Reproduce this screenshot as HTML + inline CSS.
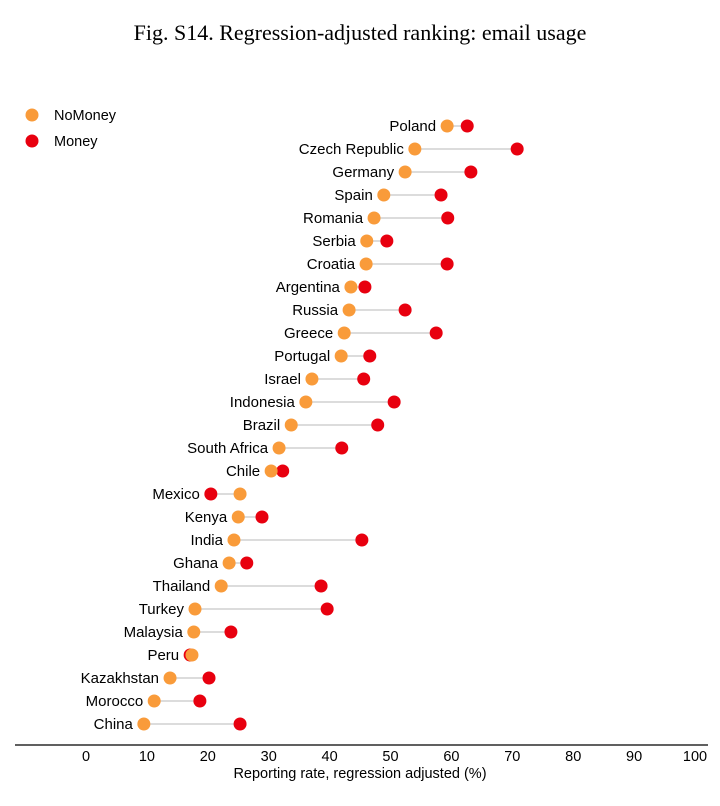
<!DOCTYPE html>
<html><head><meta charset="utf-8"><style>
body{margin:0;background:#fff;width:720px;height:801px;overflow:hidden}
</style></head><body>
<svg id="chart" width="720" height="801" xmlns="http://www.w3.org/2000/svg">
<text x="360" y="40" text-anchor="middle" font-family="Liberation Serif, serif" font-size="22">Fig. S14. Regression-adjusted ranking: email usage</text>
<g>
<circle cx="32" cy="115" r="6.5" fill="#f99b3a"/>
<text x="54" y="120" font-family="Liberation Sans, sans-serif" font-size="14.5">NoMoney</text>
<circle cx="32" cy="141" r="6.5" fill="#e8000f"/>
<text x="54" y="146" font-family="Liberation Sans, sans-serif" font-size="14.5">Money</text>
</g>
<g id="plot"></g>
</svg>
<script>
const countries=["Poland","Czech Republic","Germany","Spain","Romania","Serbia","Croatia","Argentina","Russia","Greece","Portugal","Israel","Indonesia","Brazil","South Africa","Chile","Mexico","Kenya","India","Ghana","Thailand","Turkey","Malaysia","Peru","Kazakhstan","Morocco","China"];
const noMoney=[59.3,54.0,52.4,48.9,47.3,46.1,46.0,43.5,43.2,42.4,41.9,37.1,36.1,33.7,31.7,30.4,25.3,25.0,24.3,23.5,22.2,17.9,17.7,17.4,13.8,11.2,9.5];
const money=[62.6,70.8,63.2,58.3,59.4,49.4,59.3,45.8,52.4,57.5,46.6,45.6,50.6,47.9,42.0,32.3,20.5,28.9,45.3,26.4,38.6,39.6,23.8,17.1,20.2,18.7,25.3];
const ticks=[0,10,20,30,40,50,60,70,80,90,100];
const xLabel="Reporting rate, regression adjusted (%)";

const NS="http://www.w3.org/2000/svg";
const g=document.getElementById('plot');
const x=v=>86+v*6.09;
const y=i=>126+i*23;
function mk(t,a){const e=document.createElementNS(NS,t);for(const k in a)e.setAttribute(k,a[k]);g.appendChild(e);return e;}
countries.forEach((c,i)=>{
  const lo=Math.min(noMoney[i],money[i]),hi=Math.max(noMoney[i],money[i]);
  const ln=mk('line',{x1:x(lo),x2:x(hi),y1:y(i),y2:y(i),stroke:'#d0d0d0','stroke-width':1.5});
  
  
  const t=mk('text',{x:x(lo)-11,y:y(i)+5,'text-anchor':'end','font-family':'Liberation Sans, sans-serif','font-size':15});
  t.textContent=c;
  
  
  const b=mk('circle',{cx:x(money[i]),cy:y(i),r:6.5,fill:'#e8000f'});
  
  
  const a=mk('circle',{cx:x(noMoney[i]),cy:y(i),r:6.5,fill:'#f99b3a'});
  
  
});
const ax=mk('line',{x1:15,x2:708,y1:745,y2:745,stroke:'#000','stroke-width':1.2});


ticks.forEach(v=>{
  const t=mk('text',{x:x(v),y:761,'text-anchor':'middle','font-family':'Liberation Sans, sans-serif','font-size':14.5});
  t.textContent=v;
  
  
});
const xt=mk('text',{x:360,y:778,'text-anchor':'middle','font-family':'Liberation Sans, sans-serif','font-size':14.5});
xt.textContent=xLabel;


</script>
</body></html>
